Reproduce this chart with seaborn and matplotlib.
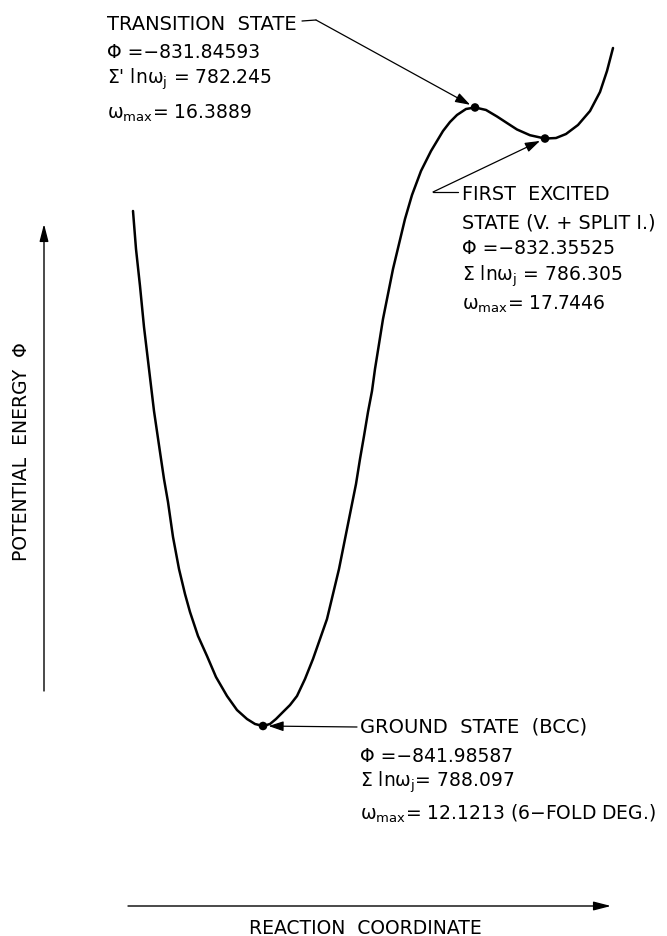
import matplotlib
matplotlib.use("Agg")
import matplotlib.pyplot as plt
import seaborn as sns
import numpy as np
import pandas as pd
from matplotlib.lines import Line2D

# ---------------- data ----------------
# reaction coordinate (arbitrary units) and potential energy Phi along the curve
reaction_coord = [2.66, 2.72, 2.80, 2.88, 2.98, 3.08, 3.20, 3.28, 3.36, 3.46, 3.58, 3.70,
                  3.80, 3.96, 4.14, 4.32, 4.54, 4.74, 4.94, 5.10, 5.26,
                  5.40, 5.52, 5.66, 5.80, 5.94, 6.10, 6.26, 6.40, 6.54, 6.66, 6.78, 6.90,
                  7.02, 7.12, 7.20, 7.28, 7.36, 7.44, 7.50, 7.58, 7.66, 7.76, 7.86, 7.98,
                  8.10, 8.24, 8.42, 8.62, 8.86, 9.00, 9.14, 9.32, 9.50,
                  9.72, 9.94, 10.14, 10.34, 10.60, 10.90, 11.12, 11.32, 11.56, 11.80,
                  12.00, 12.14, 12.26]
potential = [-833.543, -834.166, -834.773, -835.445, -836.133, -836.822, -837.494, -837.937,
             -838.314, -838.887, -839.412, -839.822, -840.117, -840.510, -840.838, -841.183,
             -841.494, -841.724, -841.871, -841.953, -841.98587,
             -841.953, -841.871, -841.756, -841.642, -841.494, -841.215, -840.887, -840.560,
             -840.232, -839.822, -839.412, -838.920, -838.428, -838.019, -837.609, -837.232,
             -836.838, -836.494, -836.133, -835.724, -835.314, -834.904, -834.494, -834.084,
             -833.674, -833.281, -832.887, -832.560, -832.232, -832.084, -831.969, -831.871,
             -831.84593,
             -831.887, -831.994, -832.101, -832.207, -832.301, -832.35525, -832.347, -832.281,
             -832.133, -831.904, -831.592, -831.248, -830.871]

state_names = ["GROUND STATE (BCC)", "TRANSITION STATE", "FIRST EXCITED"]
state_coord = [5.26, 9.50, 10.90]
state_phi = [-841.98587, -831.84593, -832.35525]

ground_lines = ["GROUND  STATE  (BCC)", "Φ =−841.98587", r"Σ ln$\omega_j$= 788.097",
                r"$\omega_{max}$= 12.1213 (6−FOLD DEG.)"]
ts_lines = ["TRANSITION  STATE", "Φ =−831.84593", r"Σ' ln$\omega_j$ = 782.245",
            r"$\omega_{max}$= 16.3889"]
fe_lines = ["FIRST  EXCITED", "STATE (V. + SPLIT I.)", "Φ =−832.35525",
            r"Σ ln$\omega_j$ = 786.305", r"$\omega_{max}$= 17.7446"]
x_label = "REACTION  COORDINATE"
y_label = "POTENTIAL  ENERGY  Φ"

# ---------------- figure ----------------
W, H = 667, 937
sns.set_theme(style="white")
plt.rcParams["font.family"] = ["DejaVu Sans"]
plt.rcParams["mathtext.fontset"] = "dejavusans"
plt.rcParams["mathtext.default"] = "regular"
plt.rcParams["text.color"] = "black"

fig = plt.figure(figsize=(W / 100, H / 100), dpi=100)
ax = fig.add_axes([0, 0, 1, 1])
ax.set_xlim(0, W / 50)
ax.set_ylim(-841.98587 - 210 / 61.0, -841.98587 + 727 / 61.0)
ax.axis("off")

df = pd.DataFrame({"r": reaction_coord, "phi": potential})
sns.lineplot(data=df, x="r", y="phi", sort=False, estimator=None, color="black",
             linewidth=1.8, ax=ax)
sns.scatterplot(x=state_coord, y=state_phi, s=38, color="black", edgecolor="none",
                ax=ax, zorder=5)


def fp(x, y):
    return (x / W, 1 - y / H)


FS = 13.5
FS_CAPS = 14
arrow_kw = dict(arrowstyle="-|>,head_length=0.6,head_width=0.2", mutation_scale=15,
                color="black", lw=0.9, shrinkA=0)


def text_block(x, baselines, lines, n_caps, caps_fs=FS_CAPS):
    for i, (yb, s) in enumerate(zip(baselines, lines)):
        fs = caps_fs if i < n_caps else FS
        fig.text(*fp(x, yb), s, fontsize=fs, ha="left", va="baseline", color="black")


# transition state label
text_block(107, [30, 58, 84, 119], ts_lines, 1)
fig.add_artist(Line2D([302 / W, 316 / W], [1 - 22 / H, 1 - 21 / H], color="black", lw=0.9))
ax.annotate("", xy=(state_coord[1], state_phi[1]), xycoords="data",
            xytext=fp(316, 21), textcoords="figure fraction",
            arrowprops=dict(shrinkB=4, **arrow_kw))

# first excited state label
text_block(462, [200, 229, 254, 281, 310], fe_lines, 2, caps_fs=13.8)
fig.add_artist(Line2D([433 / W, 458 / W], [1 - 193 / H, 1 - 193 / H], color="black", lw=0.9))
ax.annotate("", xy=(state_coord[2], state_phi[2]), xycoords="data",
            xytext=fp(433, 193), textcoords="figure fraction",
            arrowprops=dict(shrinkB=4, **arrow_kw))

# ground state label
text_block(360, [733, 762, 787, 820], ground_lines, 1)
ax.annotate("", xy=(state_coord[0], state_phi[0]), xycoords="data",
            xytext=fp(357, 728), textcoords="figure fraction",
            arrowprops=dict(shrinkB=4, **arrow_kw))

# axis arrows
ax_arrow = dict(arrowstyle="-|>,head_length=0.7,head_width=0.18", mutation_scale=15,
                color="black", lw=1.0, shrinkA=0, shrinkB=0)
ax.annotate("", xy=fp(44, 225), xycoords="figure fraction", xytext=fp(44, 692),
            textcoords="figure fraction", arrowprops=ax_arrow)
ax.annotate("", xy=fp(611, 907), xycoords="figure fraction", xytext=fp(128, 907),
            textcoords="figure fraction", arrowprops=ax_arrow)

fig.text(*fp(365, 929), x_label, fontsize=13.5, ha="center", va="center", color="black")
fig.text(*fp(22, 452), y_label, fontsize=13.5, ha="center", va="center", rotation=90,
         color="black")

fig.savefig("out.png", dpi=100, facecolor="white")
